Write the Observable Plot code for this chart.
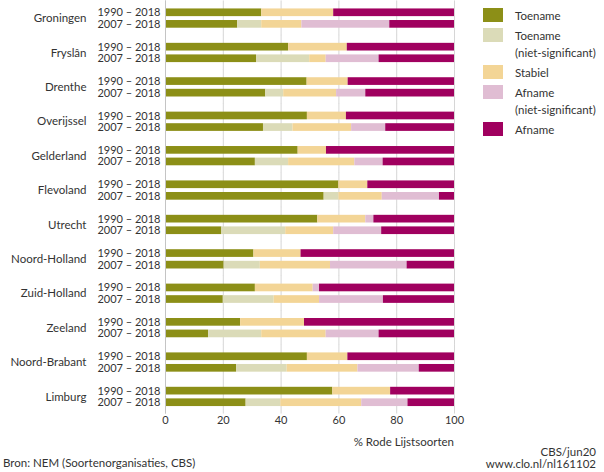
<!DOCTYPE html>
<html><head><meta charset="utf-8">
<script src="https://cdn.jsdelivr.net/npm/d3@7"></script>
<script src="https://cdn.jsdelivr.net/npm/@observablehq/plot@0.6"></script>
<style>
body{margin:0;background:#fff;font-family:Lato,"Noto Sans",sans-serif;color:#333;}
#wrap{position:relative;width:604px;height:472px;overflow:hidden;}
#chart{position:absolute;left:0;top:0;}
#legend{position:absolute;left:483px;top:6.5px;display:flex;flex-direction:column;gap:3px;font-size:11.5px;line-height:17px;}
.item{display:flex;align-items:flex-start;}
.sw{width:20px;height:14px;margin-top:1.5px;margin-right:12px;flex:none;}
.txt{position:absolute;font-size:11.5px;line-height:14px;white-space:nowrap;}
</style></head><body>
<div id="wrap"><div id="chart"></div><div id="legend"></div>
<div class="txt" id="xlabel" style="right:150px;top:434.5px;">% Rode Lijstsoorten</div>
<div class="txt" id="src" style="left:3px;top:456px;">Bron: NEM (Soortenorganisaties, CBS)</div>
<div class="txt" style="right:8px;top:445px;">CBS/jun20</div>
<div class="txt" style="right:8px;top:457px;">www.clo.nl/nl161102</div>
</div>
<script>
const provinces = ["Groningen","Fryslân","Drenthe","Overijssel","Gelderland","Flevoland","Utrecht","Noord-Holland","Zuid-Holland","Zeeland","Noord-Brabant","Limburg"];
const periods = ["1990 – 2018","2007 – 2018"];
const categories = ["Toename","Toename (niet-significant)","Stabiel","Afname (niet-significant)","Afname"];
const legendLabels = ["Toename","Toename<br>(niet-significant)","Stabiel","Afname<br>(niet-significant)","Afname"];
const colors = ["#8c8f17","#dbdbb8","#f3d596","#e0bdd3","#a0005f"];
const xTicks = [0,20,40,60,80,100];

// 1990 – 2018
const toename1990   = [33.3,42.6,49.0,49.1,45.9,60.0,52.7,30.6,31.1,26.0,49.1,57.9];
const toenameNS1990 = [0,0,0,0,0,0,0,0,0,0,0,0];
const stabiel1990   = [24.9,20.3,14.2,13.5,9.8,10.0,16.6,16.3,20.0,22.1,14.0,20.0];
const afnameNS1990  = [0,0,0,0,0,0,2.8,0,2.2,0,0,0];
const afname1990    = [41.8,37.1,36.8,37.4,44.3,30.0,27.9,53.1,46.7,51.9,36.9,22.1];
// 2007 – 2018
const toename2007   = [25.0,31.5,34.7,33.9,31.1,54.9,19.5,20.3,20.0,14.9,24.6,27.9];
const toenameNS2007 = [8.3,18.4,6.2,10.2,11.5,5.1,22.1,12.5,17.6,18.4,17.5,12.0];
const stabiel2007   = [13.9,5.7,18.3,20.3,22.9,15.0,16.6,24.3,15.7,22.3,24.5,28.0];
const afnameNS2007  = [30.4,18.3,10.1,11.8,9.8,19.8,16.6,26.5,22.1,18.3,21.2,16.0];
const afname2007    = [22.4,26.1,30.7,23.8,24.7,5.2,25.2,16.4,24.6,26.1,12.2,16.1];

const series = {
  "1990 – 2018": [toename1990,toenameNS1990,stabiel1990,afnameNS1990,afname1990],
  "2007 – 2018": [toename2007,toenameNS2007,stabiel2007,afnameNS2007,afname2007]
};
const data = [];
provinces.forEach((p,i)=>periods.forEach(per=>categories.forEach((c,k)=>{
  data.push({province:p, period:per, category:c, value:series[per][k][i]});
})));

const plot = Plot.plot({
  width:604, height:430,
  marginLeft:165, marginRight:150, marginTop:5, marginBottom:20.5,
  style:{fontFamily:'Lato,"Noto Sans",sans-serif', fontSize:"10px", color:"#333", background:"transparent"},
  x:{domain:[0,100], label:null},
  y:{domain:periods, paddingInner:0.336, paddingOuter:0, round:false, label:null},
  fy:{domain:provinces, paddingInner:0.44, paddingOuter:0.1, round:false, label:null},
  color:{domain:categories, range:colors},
  marks:[
    Plot.gridX(xTicks,{stroke:"#d6d6d6", strokeOpacity:1, insetTop:-8, insetBottom:-7.5}),
    Plot.barX(data,{x:"value", y:"period", fy:"province", fill:"category"}),
    Plot.ruleX([0],{stroke:"#c4c4c4", insetTop:-8, insetBottom:-7.5}),
    Plot.axisX(xTicks,{anchor:"bottom", tickSize:0, tickPadding:9.5, label:null, fontSize:11}),
    Plot.axisY({anchor:"left", tickSize:0, tickPadding:5, label:null, fontSize:11}),
    Plot.axisFy({anchor:"left", tickSize:0, tickPadding:79, label:null, fontSize:11.5})
  ]
});
document.getElementById("chart").appendChild(plot);

const lg = document.getElementById("legend");
categories.forEach((c,i)=>{
  const it = document.createElement("div"); it.className="item";
  it.innerHTML = `<div class="sw" style="background:${colors[i]}"></div><div>${legendLabels[i]}</div>`;
  lg.appendChild(it);
});
</script>
</body></html>
